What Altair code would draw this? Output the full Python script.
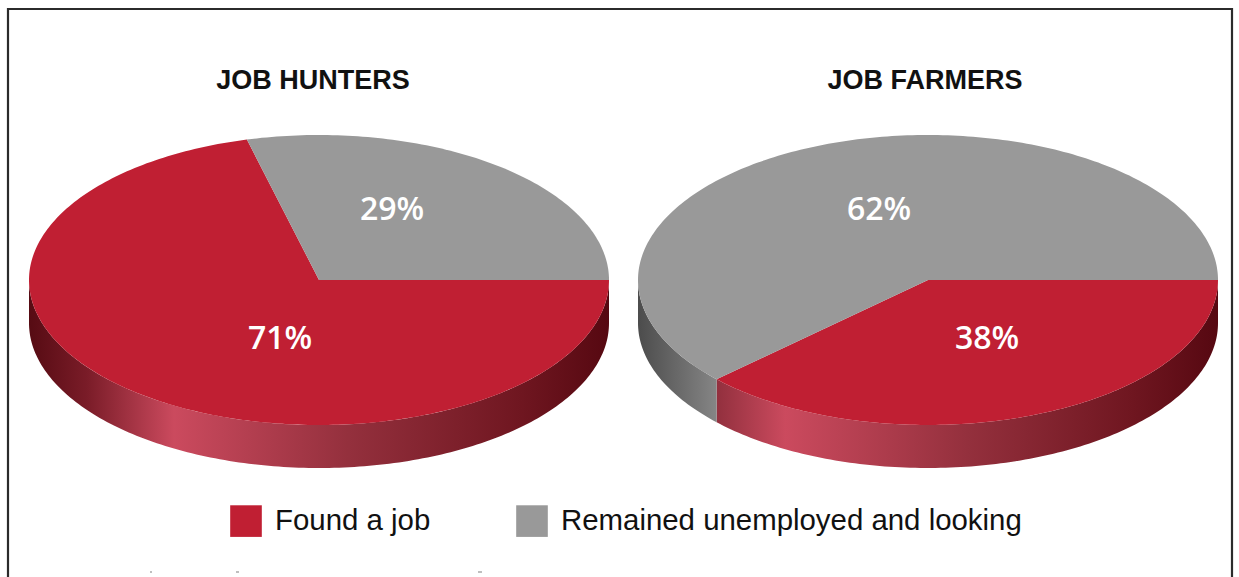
import math
import altair as alt
import pandas as pd

# Survey results, in percent
panels = ["JOB HUNTERS", "JOB FARMERS"]
statuses = ["Found a job", "Remained unemployed and looking"]
found_share = [71, 38]
looking_share = [29, 62]
status_colors = ["#c01f33", "#999999"]

# Drawing geometry of the tilted discs, in canvas units
W, H = 1239, 577
centers_x = [319, 928]
center_y = 280
radius_x = 290
radius_y = 145
depth = 43

title_x = [313, 925]
title_y = [81, 81]
label_x = [[280, 392], [987, 879]]
label_y = [339, 210]
frame_x = [8, 1232]
frame_top = 9
speck_x = [150, 236, 478]
speck_x2 = [152, 239, 482]


def ellipse(cx, deg, dy=0.0):
    a = math.radians(deg)
    return cx + radius_x * math.cos(a), center_y + radius_y * math.sin(a) + dy


def sweep(a0, a1):
    n = max(2, int(abs(a1 - a0)) + 1)
    return [a0 + (a1 - a0) * k / (n - 1) for k in range(n)]


# One closed outline per slice, plus one per visible piece of rim
tops, rims = [], []
for p, cx in enumerate(centers_x):
    start = 0.0
    for status, share in zip(statuses, (found_share[p], looking_share[p])):
        end = start + share * 3.6
        pts = [(cx, center_y)] + [ellipse(cx, d) for d in sweep(start, end)]
        for i, (x, y) in enumerate(pts):
            tops.append({"piece": f"{p}-{status}", "status": status, "i": i, "x": x, "y": y})
        if start < 180:
            low, high = start, min(end, 180.0)
            outline = [ellipse(cx, d) for d in sweep(low, high)]
            outline += [ellipse(cx, d, depth) for d in sweep(high, low)]
            for i, (x, y) in enumerate(outline):
                rims.append({"piece": f"{p}-{status}", "i": i, "x": x, "y": y})
        start = end

tops = pd.DataFrame(tops)
rims = pd.DataFrame(rims)

x_scale = alt.Scale(domain=[0, W], range=[0, W])
y_scale = alt.Scale(domain=[0, H], range=[0, H])
X = alt.X("x:Q", scale=x_scale, axis=None)
Y = alt.Y("y:Q", scale=y_scale, axis=None)


def shading(stops):
    return alt.Gradient(
        gradient="linear", x1=0, x2=1, y1=0, y2=0,
        stops=[alt.GradientStop(offset=o, color=c) for o, c in stops],
    )


rim_shades = {
    "0-Found a job": [(0, "#560b13"), (0.1, "#7a1c28"), (0.25, "#cb4a5e"),
                      (0.55, "#94303d"), (0.85, "#6f1620"), (1, "#560811")],
    "1-Found a job": [(0, "#92303e"), (0.137, "#cb4a5e"), (0.5, "#94303d"),
                      (0.83, "#6f1620"), (1, "#560811")],
    "1-Remained unemployed and looking": [(0, "#4c4c4c"), (1, "#858585")],
}

rim_layers = [
    alt.Chart(rims[rims.piece == key])
    .mark_line(interpolate="linear-closed", fill=shading(stops), strokeWidth=0)
    .encode(x=X, y=Y, order="i:Q")
    for key, stops in rim_shades.items()
]

top_layer = (
    alt.Chart(tops)
    .mark_line(interpolate="linear-closed", strokeWidth=0)
    .encode(
        x=X, y=Y, order="i:Q", detail="piece:N",
        fill=alt.Fill(
            "status:N",
            scale=alt.Scale(domain=statuses, range=status_colors),
            legend=alt.Legend(
                title=None, orient="none", legendX=230, legendY=505,
                direction="horizontal", symbolType="square", symbolSize=1000,
                symbolStrokeWidth=0, labelFont="Liberation Sans", labelFontSize=29.4,
                labelColor="#111111", labelOffset=13, columnPadding=85,
                labelLimit=600, padding=0,
            ),
        ),
    )
)

titles = pd.DataFrame({"x": title_x, "y": title_y, "t": panels})
title_layer = (
    alt.Chart(titles)
    .mark_text(font="Liberation Sans", fontWeight="bold", fontSize=27, color="#111111", baseline="middle")
    .encode(x=X, y=Y, text="t:N")
)

shares = pd.DataFrame(
    {
        "x": [v for row in label_x for v in row],
        "y": label_y * 2,
        "t": [f"{v}%" for pair in zip(found_share, looking_share) for v in pair],
    }
)
share_layer = (
    alt.Chart(shares)
    .mark_text(font="Open Sans", fontWeight=600, fontSize=32, color="#ffffff", baseline="middle")
    .encode(x=X, y=Y, text="t:N")
)

# Outer frame: open at the bottom edge
frame = pd.DataFrame(
    {
        "x": [frame_x[0], frame_x[0], frame_x[1], frame_x[1]],
        "y": [H, frame_top, frame_top, H],
        "i": [0, 1, 2, 3],
    }
)
frame_layer = (
    alt.Chart(frame).mark_line(color="#2b2b2b", strokeWidth=2.2).encode(x=X, y=Y, order="i:Q")
)

specks = pd.DataFrame({"x": speck_x, "x2": speck_x2, "y": [572] * 3})
speck_layer = (
    alt.Chart(specks)
    .mark_rule(color="#aaaaaa", strokeWidth=1.5)
    .encode(x=X, x2="x2:Q", y=Y)
)

chart = (
    alt.layer(frame_layer, speck_layer, *rim_layers, top_layer, title_layer, share_layer)
    .resolve_scale(fill="independent")
    .properties(width=W, height=H, padding=0, autosize=alt.AutoSizeParams(type="none"), background="#ffffff")
    .configure_view(stroke=None)
)

chart.save("out.html", embed_options={"renderer": "svg", "actions": False})
